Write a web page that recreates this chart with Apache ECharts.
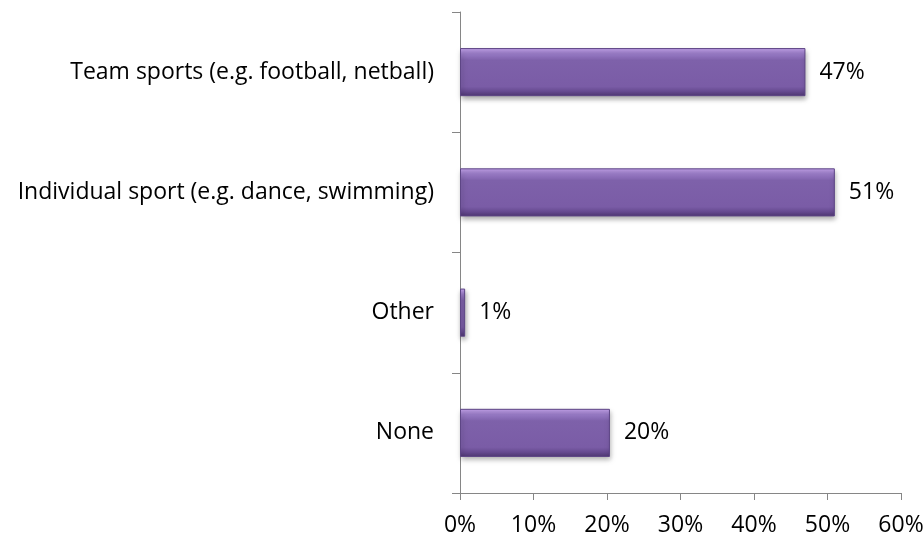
<!DOCTYPE html>
<html>
<head>
<meta charset="utf-8">
<script src="https://cdn.jsdelivr.net/npm/echarts@6/dist/echarts.min.js"></script>
<style>html,body{margin:0;padding:0;background:#fff;}#c{width:924px;height:535px;}</style>
</head>
<body>
<div id="c"></div>
<script>
var categories = ["Team sports (e.g. football, netball)", "Individual sport (e.g. dance, swimming)", "Other", "None"];
var values = [47.0, 51.0, 0.7, 20.4];
var tickLabels = ["0%", "10%", "20%", "30%", "40%", "50%", "60%"];

var chart = echarts.init(document.getElementById('c'), null, {renderer: 'canvas'});
var FONT = '"Open Sans"';
var FS = 23;
var axisGray = '#868686';
chart.setOption({
  animation: false,
  grid: {left: 460, right: 23, top: 12, bottom: 42, containLabel: false, outerBoundsMode: 'none'},
  xAxis: {
    type: 'value', min: 0, max: 60, interval: 10,
    splitLine: {show: false},
    axisLine: {show: true, lineStyle: {color: axisGray, width: 1}},
    axisTick: {show: true, length: 7, lineStyle: {color: axisGray}},
    axisLabel: {margin: 21, color: '#000', fontFamily: FONT, fontSize: FS,
      formatter: function (v) { return tickLabels[Math.round(v / 10)]; }}
  },
  yAxis: {
    type: 'category', data: categories, inverse: true,
    axisLine: {show: true, lineStyle: {color: axisGray, width: 1}},
    axisTick: {show: true, length: 8, lineStyle: {color: axisGray}},
    axisLabel: {margin: 26, color: '#000', fontFamily: FONT, fontSize: FS}
  },
  series: [{
    type: 'bar', data: values, barWidth: '40%',
    itemStyle: {
      color: new echarts.graphic.LinearGradient(0, 0, 0, 1, [
        {offset: 0, color: '#c7a6ee'},
        {offset: 0.12, color: '#9a7cc8'},
        {offset: 0.25, color: '#7e61aa'},
        {offset: 0.8, color: '#7a5ca6'},
        {offset: 0.9, color: '#664a90'},
        {offset: 1, color: '#4f3772'}
      ]),
      borderColor: '#5d4585', borderWidth: 1,
      shadowColor: 'rgba(0,0,0,0.35)', shadowBlur: 5, shadowOffsetY: 3, shadowOffsetX: 1
    },
    label: {show: true, position: 'right', distance: 14, color: '#000', fontFamily: FONT, fontSize: FS,
      formatter: function (p) { return Math.round(p.value) + '%'; }}
  }]
});
</script>
</body>
</html>
